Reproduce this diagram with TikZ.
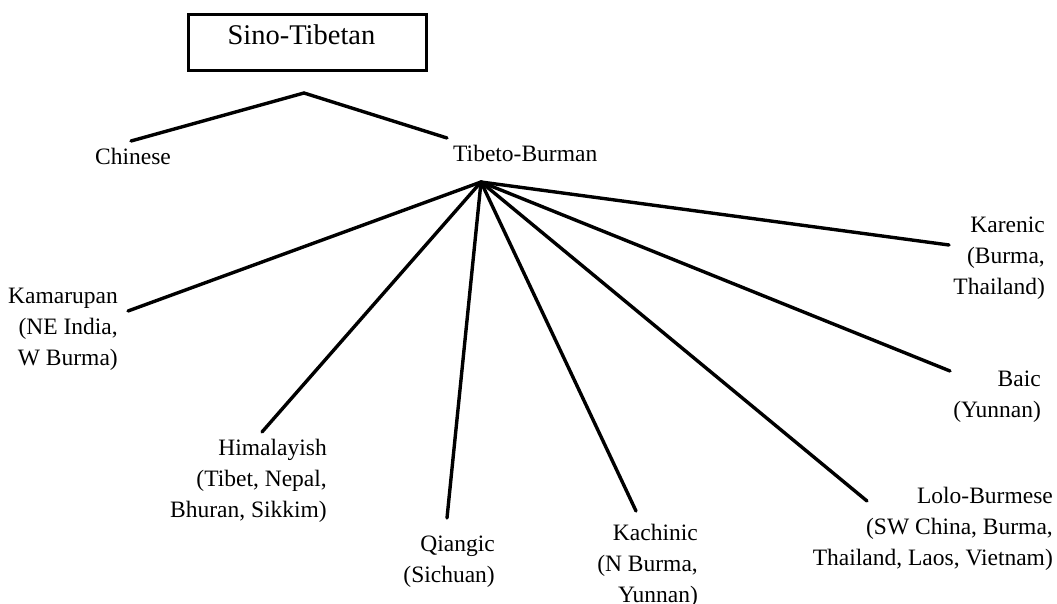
\documentclass[tikz,border=0pt]{standalone}
\usepackage{fontspec}
\setmainfont{Liberation Serif}
% right-aligned stack of lines whose baseline is the first line's baseline
\newcommand{\rlines}[1]{\begin{tabular}[t]{@{}r@{}}#1\end{tabular}}
\begin{document}
\begin{tikzpicture}[x=1pt,y=-1pt,
  branch/.style={line width=3.4pt, line cap=round},
  lang/.style={inner sep=0pt, font=\fontsize{23.5}{31}\selectfont},
  rootbox/.style={draw, line width=3pt, inner xsep=39pt, inner ysep=0pt,
    text height=30pt, text depth=26pt, font=\fontsize{28.5}{34}\selectfont}]
  % canvas
  \path[fill=white, use as bounding box] (0,0) rectangle (1057,604);

  % top of the tree
  \node[rootbox, anchor=base west] (root) at (187,45) {Sino-Tibetan\kern12pt};
  \node[lang, anchor=base west] (chinese) at (95,165) {Chinese};
  \node[lang, anchor=base west] (tibetoburman) at (453,162) {Tibeto-Burman};

  % Tibeto-Burman subgroups
  \node[lang, anchor=base east] (kamarupan) at (118,303)
    {\rlines{Kamarupan\\(NE India,\\W Burma)}};
  \node[lang, anchor=base east] (himalayish) at (327,455)
    {\rlines{Himalayish\\(Tibet, Nepal,\\Bhuran, Sikkim)}};
  \node[lang, anchor=base east] (qiangic) at (495,551)
    {\rlines{Qiangic\\(Sichuan)}};
  \node[lang, anchor=base east] (kachinic) at (698,540)
    {\rlines{Kachinic\\(N Burma,\\Yunnan)}};
  \node[lang, anchor=base east] (lolo) at (1053,503)
    {\rlines{Lolo-Burmese\\(SW China, Burma,\\Thailand, Laos, Vietnam)}};
  \node[lang, anchor=base east] (baic) at (1041,386)
    {\rlines{Baic\\(Yunnan)}};
  \node[lang, anchor=base east] (karenic) at (1045,233)
    {\rlines{Karenic\\(Burma,\\Thailand)}};

  % branching points and branch ends
  \coordinate (apex) at (304,93);
  \coordinate (hub) at (481,182);
  \coordinate (end-chinese) at (131,141);
  \coordinate (end-tb) at (447,138);
  \coordinate (end-kamarupan) at (128,311);
  \coordinate (end-himalayish) at (262,432);
  \coordinate (end-qiangic) at (447,518);
  \coordinate (end-kachinic) at (636,511);
  \coordinate (end-lolo) at (867,501);
  \coordinate (end-baic) at (950,371);
  \coordinate (end-karenic) at (949,245);

  % branches
  \draw[branch] (end-chinese) -- (apex) -- (end-tb);
  \foreach \e in {kamarupan,himalayish,qiangic,kachinic,lolo,baic,karenic}
    \draw[branch] (hub) -- (end-\e);
\end{tikzpicture}
\end{document}
